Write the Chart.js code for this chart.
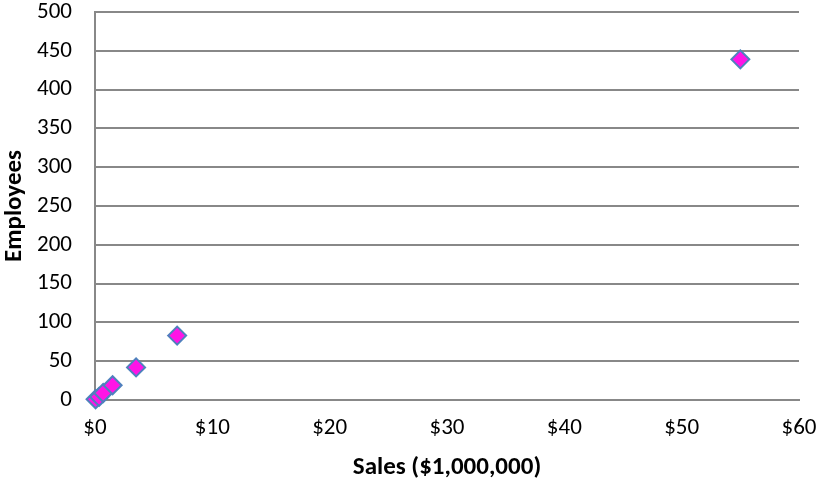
<!DOCTYPE html>
<html>
<head>
<meta charset="utf-8">
<script src="https://cdn.jsdelivr.net/npm/chart.js@4"></script>
<style>
  html, body { margin: 0; padding: 0; background: #fff; }
  #wrap { width: 822px; height: 483px; }
</style>
</head>
<body>
<div id="wrap"><canvas id="c"></canvas></div>
<script>
// Sales in $1,000,000 vs. employee count
const sales = [0.05, 0.35, 0.7, 1.5, 3.5, 7, 55];
const employees = [1, 4, 9, 19, 42, 83, 439];
const xTicks = [0, 10, 20, 30, 40, 50, 60];
const yTicks = [0, 50, 100, 150, 200, 250, 300, 350, 400, 450, 500];

const points = sales.map((s, i) => ({ x: s, y: employees[i] }));
const family = "Carlito, 'Liberation Sans', Arial, sans-serif";
const tickFont = { family: family, size: 23 };
const titleFont = { family: family, size: 25, weight: 'bold' };

new Chart(document.getElementById("c"), {
    type: 'scatter',
    data: {
        datasets: [{
            data: points,
            pointStyle: 'rectRot',
            pointRadius: 9,
            pointHoverRadius: 9,
            backgroundColor: '#ff14e6',
            borderColor: '#4f81bd',
            borderWidth: 2,
            clip: false
        }]
    },
    options: {
        responsive: true,
        maintainAspectRatio: false,
        animation: false,
        layout: { autoPadding: false, padding: { top: 12, right: 23 } },
        plugins: { legend: { display: false }, tooltip: { enabled: false } },
        scales: {
            x: {
                type: 'linear',
                min: xTicks[0],
                max: xTicks[xTicks.length - 1],
                afterBuildTicks: s => { s.ticks = xTicks.map(v => ({ value: v })); },
                afterFit: s => { s.height = 83; s.paddingLeft = 0; s.paddingRight = 0; },
                grid: { display: false, drawTicks: false },
                border: { display: true, color: '#888888', width: 2 },
                ticks: { color: '#000', font: tickFont, padding: 14, callback: v => '$' + v },
                title: {
                    display: true, text: 'Sales ($1,000,000)', color: '#000',
                    font: titleFont,
                    padding: { top: 0, bottom: 0 }
                }
            },
            y: {
                min: yTicks[0],
                max: yTicks[yTicks.length - 1],
                afterBuildTicks: s => { s.ticks = yTicks.map(v => ({ value: v })); },
                afterFit: s => { s.width = 95; s.paddingTop = 0; s.paddingBottom = 0; },
                grid: { color: '#888888', lineWidth: 2, drawTicks: false },
                border: { display: true, color: '#888888', width: 2 },
                ticks: { color: '#000', font: tickFont, padding: 23 },
                title: {
                    display: true, text: 'Employees', color: '#000',
                    font: titleFont,
                    padding: { top: 0, bottom: 0 }
                }
            }
        }
    }
});
</script>
</body>
</html>
